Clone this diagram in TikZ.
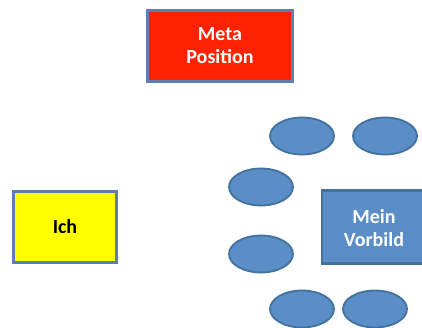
\documentclass[tikz,border=0pt]{standalone}
\usepackage{fontspec}
\setmainfont{Carlito}
\usetikzlibrary{shapes.geometric}
\definecolor{redfill}{HTML}{FF2200}
\definecolor{yelfill}{HTML}{FFFF00}
\definecolor{bluefill}{HTML}{5B8EC6}
\definecolor{blueline}{HTML}{41719C}
\definecolor{frameline}{HTML}{5A7FB0}
\begin{document}
\begin{tikzpicture}[x=1pt,y=-1pt,
  box/.style={draw=frameline,line width=2.4pt,inner sep=0pt,align=center,font=\fontsize{20}{23}\selectfont\bfseries},
  oval/.style={ellipse,draw=blueline,fill=bluefill,line width=1.8pt,minimum width=64pt,minimum height=37pt,inner sep=0pt}]
\useasboundingbox (0,0) rectangle (422,327);
\node[box,fill=redfill,text=white,minimum width=145pt,minimum height=71pt] (meta) at (220,46) {Meta\\Position};
\node[box,fill=yelfill,text=black,minimum width=103pt,minimum height=71pt] (ich) at (65,227) {Ich};
\begin{scope}
\clip (0,0) rectangle (422,327);
\node[box,draw=blueline,fill=bluefill,text=white,minimum width=110pt,minimum height=73pt] (vorbild) at (377,227) {};
\node[oval] (o1) at (302,136) {};
\node[oval] (o2) at (385,136) {};
\node[oval] (o3) at (261,187) {};
\node[oval] (o4) at (261,254) {};
\node[oval] (o5) at (302,309) {};
\node[oval] (o6) at (375,309) {};
\end{scope}
\node[align=center,text=white,font=\fontsize{20}{23}\selectfont\bfseries] (vtext) at (374,228) {Mein\\Vorbild};
\end{tikzpicture}
\end{document}
